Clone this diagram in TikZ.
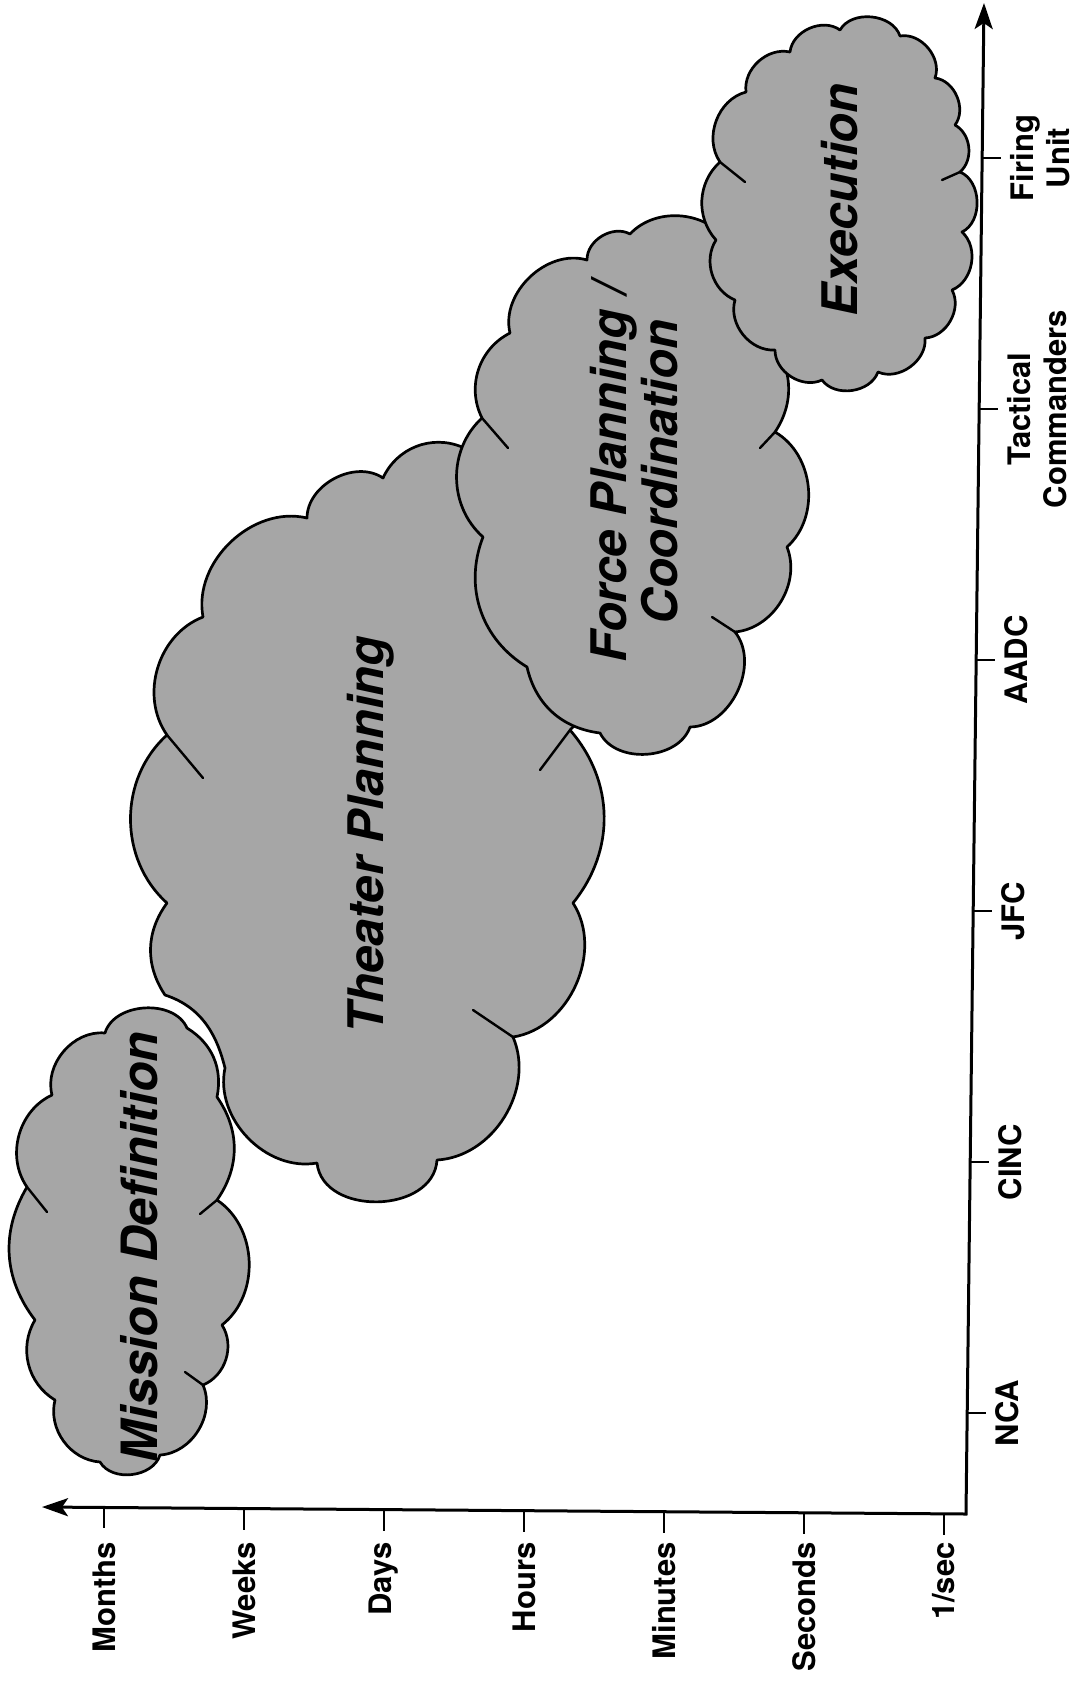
\documentclass[tikz,border=0pt]{standalone}
\usepackage{fontspec}
\setmainfont{TeX Gyre Heros}
\usetikzlibrary{arrows.meta}
\definecolor{cloudgray}{gray}{0.65}
\begin{document}
\begin{tikzpicture}[x=0.5pt,y=-0.5pt,
  cloudshape/.style={fill=cloudgray, draw=black, line width=1.35pt, line join=round},
  crease/.style={draw=black, line width=1.2pt, line cap=round},
  axisline/.style={line width=1.5pt, line join=miter},
  tickline/.style={line width=1.3pt},
  axlabel/.style={font=\fontsize{15.5}{18}\selectfont\bfseries, inner sep=0pt, rotate=90, align=center},
  cloudlabel/.style={font=\fontsize{24.5}{25.5}\selectfont\bfseries\itshape, inner sep=0pt, rotate=90, align=center},
  >={Stealth[length=13pt,width=9pt,inset=3pt]}
]
\useasboundingbox (0,0) rectangle (1088,1682);

% Theater Planning cloud
\path[cloudshape] (167,903) to[bend left=48] (167,735) to[bend left=52] (203,617)
  to[bend left=57] (307,518) to[bend left=62] (383,478) to[bend left=44] (462,447)
  -- (540,452) -- (610,600) -- (600,700) -- (570,730)
  to[bend left=40] (573,903) to[bend left=57] (513,1037) to[bend left=55] (437,1160)
  to[bend left=85, looseness=1.15] (317,1163) to[bend left=56] (225,1068)
  .. controls (218,1040) and (205,1008) .. (165,995)
  to[bend left=35] (167,903) -- cycle;
\draw[crease] (167,735) -- (203,778);
\draw[crease] (570,730) -- (540,770);
\draw[crease] (513,1037) -- (473,1010);

% Force Planning cloud
\path[cloudshape] (482,418) to[bend left=45] (510,333) to[bend left=60] (587,260)
  to[bend left=60] (630,234) to[bend left=53] (730,245) to[bend left=40] (765,335)
  to[bend left=40] (775,432) to[bend left=54] (787,547) to[bend left=53] (735,632)
  to[bend left=64] (690,727) to[bend left=67] (600,733) to[bend left=35] (527,667)
  to[bend left=40] (483,537) to[bend left=48] (482,418) -- cycle;
\draw[crease] (482,418) -- (508,448);
\draw[crease] (775,432) -- (760,448);
\draw[crease] (735,632) -- (712,617);

% Execution cloud
\path[cloudshape] (746,92) to[bend left=55] (790,52) to[bend left=60] (840,30)
  to[bend left=66] (900,36) to[bend left=60] (935,78) to[bend left=60] (955,125)
  to[bend left=55] (960,172) to[bend left=66] (962,232) to[bend left=58] (952,290)
  to[bend left=58] (925,338) to[bend left=60] (878,372) to[bend left=62] (822,380)
  to[bend left=58] (775,350) to[bend left=55] (735,300) to[bend left=50] (716,240)
  to[bend left=45] (720,162) to[bend left=55] (746,92) -- cycle;
\draw[crease] (960,172) -- (942,180);
\draw[crease] (720,162) -- (745,182);

% Mission Definition cloud
\path[cloudshape] (105,1033) to[bend left=70] (187,1028) to[bend left=35] (217,1097)
  to[bend left=35] (217,1200) to[bend left=54] (222,1325) to[bend left=50] (203,1385)
  to[bend left=55] (160,1455) to[bend left=66] (100,1462) to[bend left=50] (55,1400)
  to[bend left=45] (35,1320) to[bend left=34] (27,1187) to[bend left=50] (52,1095)
  to[bend left=55] (105,1033) -- cycle;
\draw[crease] (217,1200) -- (200,1214);
\draw[crease] (203,1385) -- (185,1372);
\draw[crease] (27,1187) -- (47,1212);

% cloud labels
\node[cloudlabel, anchor=base, font=\fontsize{25}{26}\selectfont\bfseries\itshape] (lmission) at (157,1247) {Mission Definition};
\node[cloudlabel, anchor=base] (ltheater) at (383,835) {Theater Planning};
\node[cloudlabel, anchor=north] (lforce) at (590,472) {Force Planning /\\Coordination};
\node[cloudlabel, anchor=base] (lexec) at (857,200) {Execution};

% axes
\coordinate (corner) at (966,1514);
\coordinate (ytip) at (984,3);
\coordinate (xtip) at (42,1507);
\draw[axisline, <->] (xtip) -- (corner) -- (ytip);

% bottom ticks and labels
\foreach \lab [count=\i from 0] in {Months,Weeks,Days,Hours,Minutes,Seconds,1/sec}{
  \pgfmathsetmacro{\xx}{104+140*\i}
  \pgfmathsetmacro{\yy}{1507+(\xx-42)/924*7}
  \coordinate (bt\i) at (\xx,\yy);
  \coordinate (bb\i) at (\xx,\yy+21);
  \draw[tickline] (bt\i) -- (bb\i);
  \node[axlabel, anchor=east] (bl\i) at (\xx,1542) {\lab};
}

% right ticks and labels
\foreach \lab [count=\i from 0] in {{Firing\\Unit},{Tactical\\Commanders},AADC,JFC,CINC,NCA}{
  \pgfmathsetmacro{\yy}{158+251*\i}
  \pgfmathsetmacro{\xx}{984-(\yy-3)/1511*18}
  \coordinate (rt\i) at (\xx,\yy);
  \coordinate (rb\i) at (\xx+19,\yy);
  \draw[tickline] (rt\i) -- (rb\i);
  \node[axlabel, anchor=north] (rl\i) at (\xx+28,\yy) {\lab};
}
\end{tikzpicture}
\end{document}
